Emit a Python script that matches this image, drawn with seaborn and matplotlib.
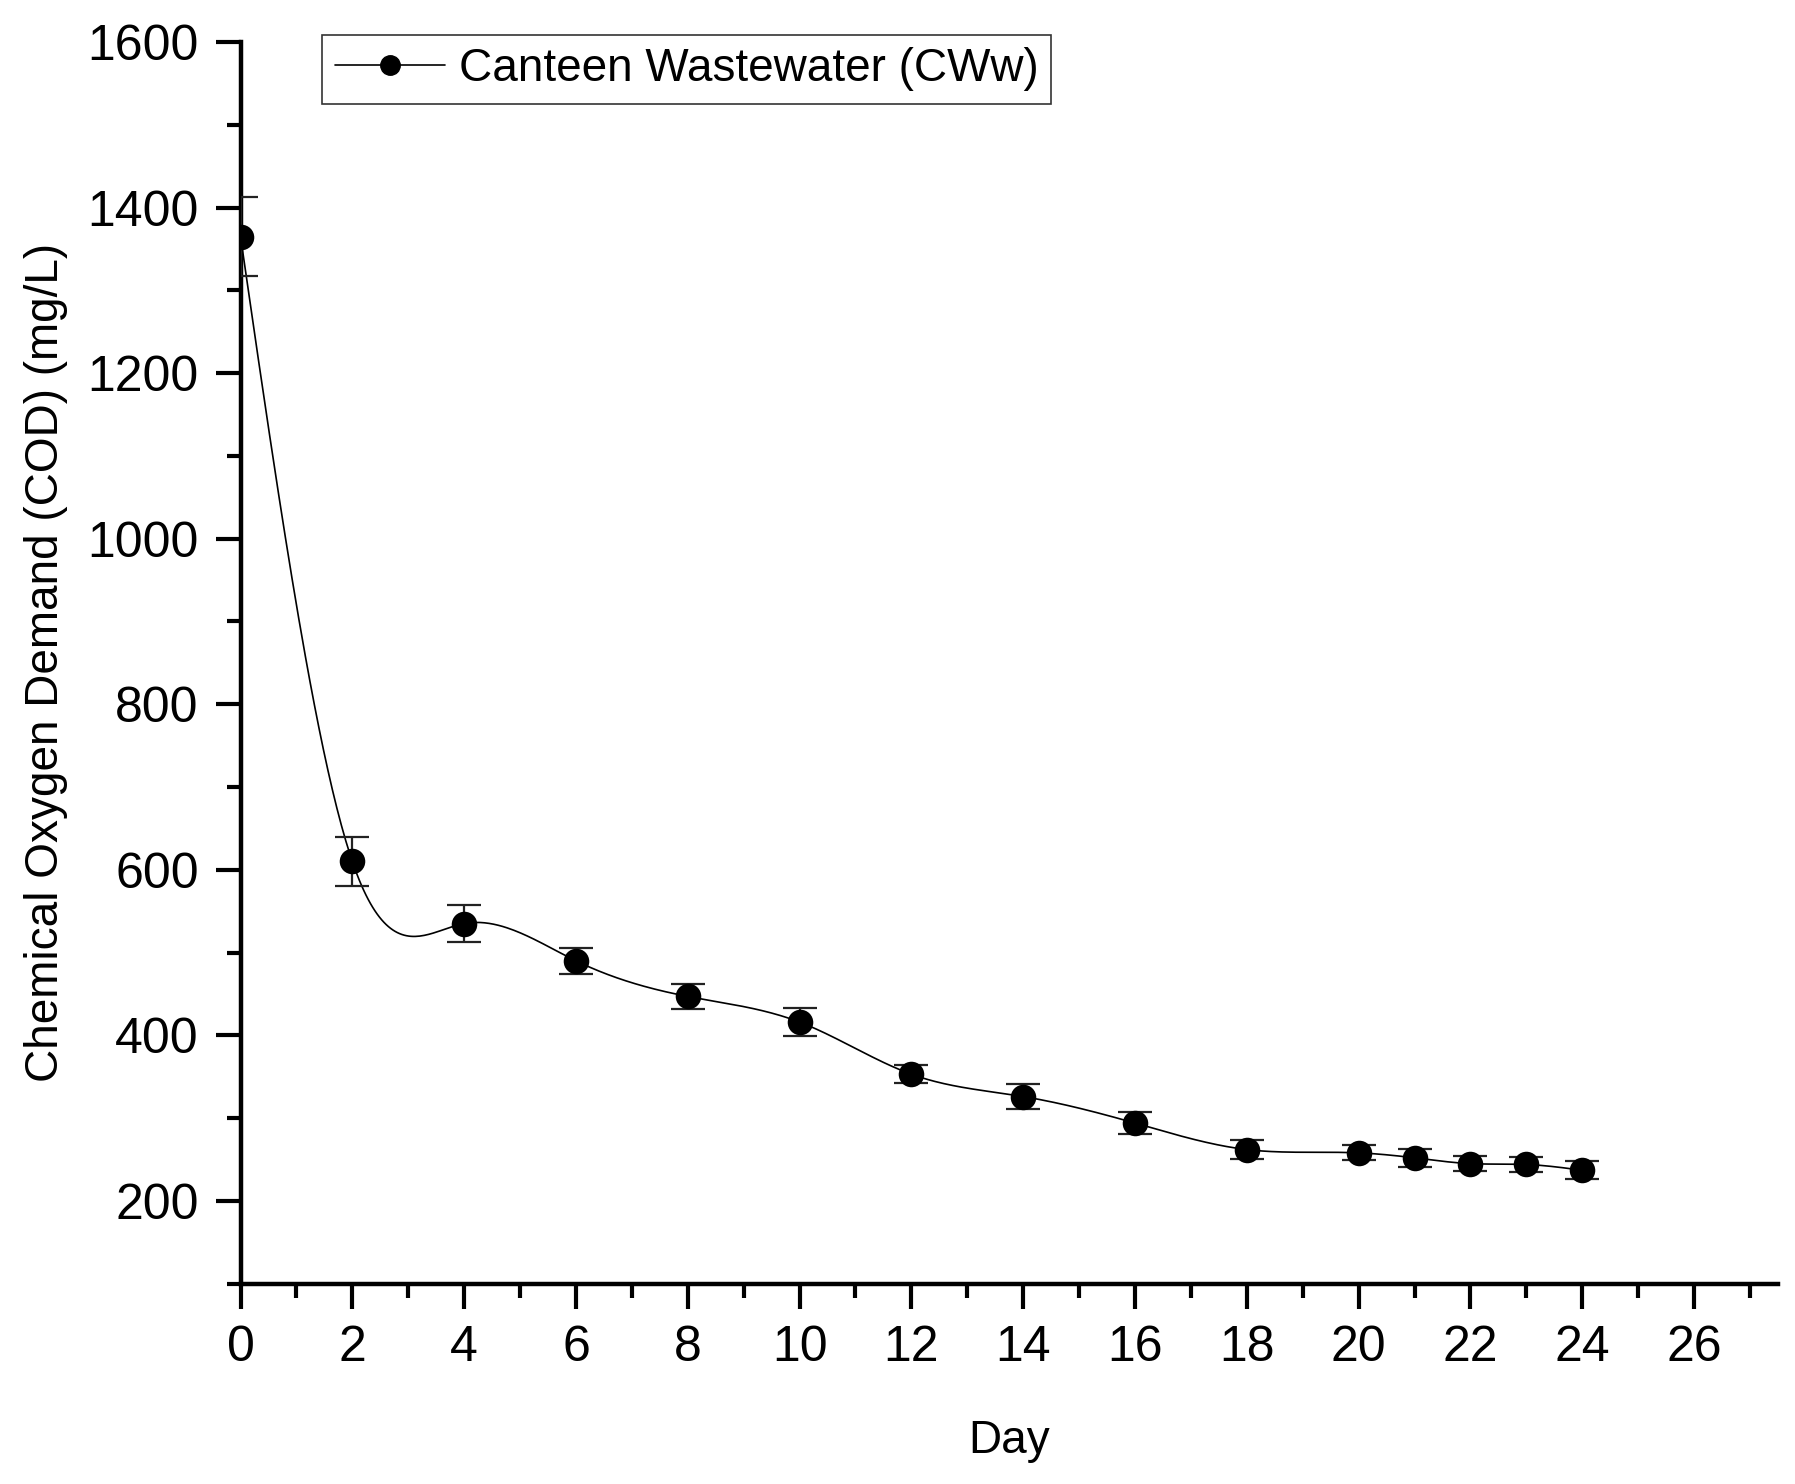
import numpy as np
import pandas as pd
import matplotlib
matplotlib.use("Agg")
import matplotlib.pyplot as plt
import seaborn as sns

# =========
# Datos
# =========
days = [0, 2, 4, 6, 8, 10, 12, 14, 16, 18, 20, 21, 22, 23, 24]
cod = [1365, 610, 535, 490, 447, 416, 353, 326, 294, 262, 258, 252, 245, 244, 237]
cod_err = [48, 30, 22, 16, 15, 17, 11, 15, 13, 12, 9, 11, 9, 9, 11]
x_ticks = list(range(0, 27, 2))
y_ticks = list(range(200, 1601, 200))

df = pd.DataFrame({"Day": days, "COD": cod, "err": cod_err})


def natural_spline(x, y, xs):
    # spline cúbica natural (solo para dibujar la curva suave)
    x = np.asarray(x, float)
    y = np.asarray(y, float)
    n = len(x)
    h = np.diff(x)
    A = np.zeros((n, n))
    b = np.zeros(n)
    A[0, 0] = A[-1, -1] = 1
    for i in range(1, n - 1):
        A[i, i - 1] = h[i - 1]
        A[i, i] = 2 * (h[i - 1] + h[i])
        A[i, i + 1] = h[i]
        b[i] = 6 * ((y[i + 1] - y[i]) / h[i] - (y[i] - y[i - 1]) / h[i - 1])
    M = np.linalg.solve(A, b)
    idx = np.clip(np.searchsorted(x, xs) - 1, 0, n - 2)
    x0, x1 = x[idx], x[idx + 1]
    hh = x1 - x0
    t0, t1 = x1 - xs, xs - x0
    return (M[idx] * t0**3 / (6 * hh) + M[idx + 1] * t1**3 / (6 * hh)
            + (y[idx] / hh - M[idx] * hh / 6) * t0
            + (y[idx + 1] / hh - M[idx + 1] * hh / 6) * t1)


sns.set_style("ticks")
plt.rcParams["font.family"] = ["Liberation Sans", "DejaVu Sans"]
plt.rcParams.update({"text.color": "black", "axes.labelcolor": "black",
                     "xtick.color": "black", "ytick.color": "black",
                     "axes.edgecolor": "black"})

fig = plt.figure(figsize=(17.95, 14.84), dpi=100)
ax = fig.add_axes([0.134, 0.135, 0.8565, 0.8367])

xs = np.linspace(min(days), max(days), 600)
ax.plot(xs, natural_spline(days, cod, xs), color="black", lw=1.2, zorder=2)
ax.errorbar(df["Day"], df["COD"], yerr=df["err"], fmt="none", ecolor="#222222",
            elinewidth=1.6, capsize=12, capthick=1.6, zorder=3)
sns.scatterplot(data=df, x="Day", y="COD", ax=ax, color="black", s=290,
                edgecolor="black", zorder=4, legend=False)

ax.set_xlim(0, 27.5)
ax.set_ylim(100, 1600)
ax.set_xticks(x_ticks)
ax.set_yticks(y_ticks)
ax.set_xticks(np.arange(1, 28, 2), minor=True)
ax.set_yticks(np.arange(100, 1600, 200), minor=True)

sns.despine(ax=ax)
for s in ["left", "bottom"]:
    ax.spines[s].set_linewidth(3.2)
ax.tick_params(which="major", length=18, width=3, labelsize=36, pad=12)
ax.tick_params(which="minor", length=10, width=3)

ax.set_xlabel("Day", fontsize=33, labelpad=34)
ax.set_ylabel("Chemical Oxygen Demand (COD) (mg/L)", fontsize=33, labelpad=14)

handle = plt.Line2D([], [], color="black", lw=1.2, marker="o", markersize=14)
leg = ax.legend([handle], ["Canteen Wastewater (CWw)"], loc="upper left",
                bbox_to_anchor=(0.053, 1.006), borderaxespad=0, fontsize=33,
                frameon=True, fancybox=False, edgecolor="black",
                handlelength=2.4, handletextpad=0.3, borderpad=0.28)
leg.get_frame().set_linewidth(1.2)

fig.savefig("out.png", dpi=100)
